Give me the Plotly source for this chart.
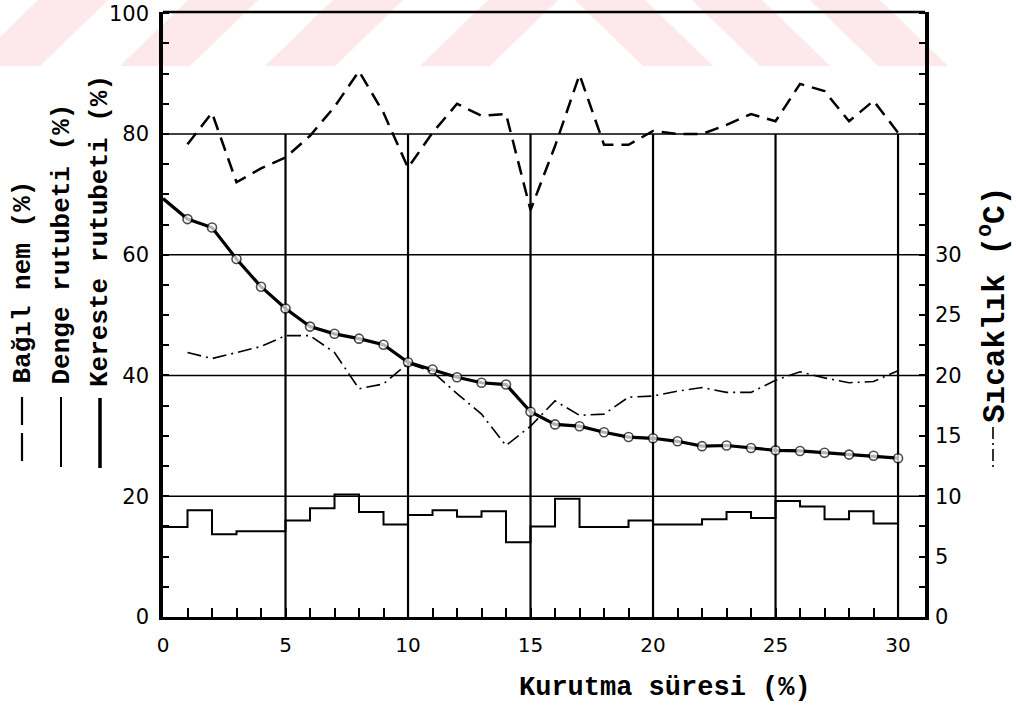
import plotly.graph_objects as go

# ---------------- data ----------------
days = list(range(0, 31))                    # Kurutma süresi (%)
bagil_x = list(range(1, 31))
bagil_nem = [78.3, 83.5, 72.0, 74.3, 76.1, 79.7, 84.5, 90.4, 83.5, 74.4,
             80.2, 85.0, 83.0, 83.3, 67.4, 78.0, 89.8, 78.2, 78.2, 80.5,
             80.0, 80.0, 81.5, 83.3, 82.1, 88.3, 87.1, 82.1, 85.5, 80.2]
kereste_rutubeti = [69.3, 65.9, 64.5, 59.3, 54.7, 51.1, 48.1, 46.9, 46.1, 45.1,
                    42.2, 41.0, 39.7, 38.8, 38.5, 34.0, 31.9, 31.6, 30.6, 29.8,
                    29.6, 29.1, 28.3, 28.4, 28.0, 27.6, 27.5, 27.2, 26.9, 26.7, 26.3]
sicaklik_x = list(range(1, 31))
sicaklik = [21.9, 21.4, 21.9, 22.4, 23.3, 23.3, 21.9, 18.9, 19.3, 21.0,
            20.3, 18.5, 16.8, 14.2, 15.8, 17.9, 16.7, 16.8, 18.2, 18.3,
            18.7, 19.0, 18.6, 18.6, 19.6, 20.3, 19.8, 19.4, 19.5, 20.4]
denge_rutubeti = [14.9, 17.7, 13.7, 14.2, 14.2, 16.0, 18.0, 20.3, 17.4, 15.3,
                  16.9, 17.7, 16.6, 17.5, 12.4, 15.0, 19.6, 14.9, 14.9, 16.0,
                  15.3, 15.3, 16.2, 17.4, 16.4, 19.2, 18.3, 16.2, 17.5, 15.5]

x_ticks = list(range(0, 31))
x_labels = [str(v) if v % 5 == 0 else "" for v in x_ticks]
y_ticks = [v * 5 for v in range(0, 21)]
y_labels = [str(v) if v % 20 == 0 else "" for v in y_ticks]
y2_ticks = [v * 2.5 for v in range(0, 21)]
y2_labels = [("%g" % v) if (v % 5 == 0 and v <= 30) else "" for v in y2_ticks]
v_grid = [5, 10, 15, 20, 25, 30]
h_grid = [20, 40, 60, 80]

# ---------------- layout geometry ----------------
W, H = 1016, 705
L, R, T, B = 163, 91, 12, 88
PW, PH = W - L - R, H - T - B
YMAX = 100.2


def px(xp):
    return (xp - L) / PW


def py(yp):
    return (H - B - yp) / PH


MONO = "Liberation Mono"
NUM = "DejaVu Sans"

fig = go.Figure()

# Denge rutubeti (step)
fig.add_trace(go.Scatter(x=days, y=denge_rutubeti + [denge_rutubeti[-1]],
                         mode="lines", line=dict(color="black", width=2, shape="hv"),
                         showlegend=False, hoverinfo="skip"))
# Bağıl nem (dashed)
fig.add_trace(go.Scatter(x=bagil_x, y=bagil_nem, mode="lines",
                         line=dict(color="black", width=2.5, dash="14px,8px"),
                         showlegend=False))
# Kereste rutubeti (thick with circles)
fig.add_trace(go.Scatter(x=days, y=kereste_rutubeti, mode="lines+markers",
                         line=dict(color="black", width=3.2),
                         marker=dict(size=[0] + [9] * (len(days) - 1), color="white",
                                     line=dict(color="black", width=1.6)),
                         showlegend=False))
# Sıcaklık (dash-dot, right axis)
fig.add_trace(go.Scatter(x=sicaklik_x, y=sicaklik, mode="lines", yaxis="y2",
                         line=dict(color="black", width=1.6, dash="14px,5px,2px,5px"),
                         showlegend=False))

shapes = []
# watermark stripes (light pink) in top band
pink = "#fde8eb"
band_top, band_bot = 0, 66
for b in [-30, 120, 265, 420]:
    x0, x1 = b, b + 70
    path = "M {} {} L {} {} L {} {} L {} {} Z".format(
        px(x0), py(band_bot), px(x1), py(band_bot),
        px(x1 + 68), py(band_top), px(x0 + 68), py(band_top))
    shapes.append(dict(type="path", path=path, xref="paper", yref="paper",
                       fillcolor=pink, line=dict(width=0), layer="below"))
for t in [575, 692, 810]:
    x0, x1 = t, t + 70
    path = "M {} {} L {} {} L {} {} L {} {} Z".format(
        px(x0), py(band_top), px(x1), py(band_top),
        px(x1 + 68), py(band_bot), px(x0 + 68), py(band_bot))
    shapes.append(dict(type="path", path=path, xref="paper", yref="paper",
                       fillcolor=pink, line=dict(width=0), layer="below"))

# grid
for g in h_grid:
    shapes.append(dict(type="line", xref="paper", yref="y", x0=0, x1=1, y0=g, y1=g,
                       line=dict(color="black", width=1.4), layer="below"))
for g in v_grid:
    shapes.append(dict(type="line", xref="x", yref="y", x0=g, x1=g, y0=0, y1=80,
                       line=dict(color="black", width=2.2), layer="below"))
# top border
shapes.append(dict(type="line", xref="paper", yref="paper", x0=0, x1=1, y0=1, y1=1,
                   line=dict(color="black", width=2.5)))

# legend line samples next to axis titles
shapes.append(dict(type="line", xref="paper", yref="paper", x0=px(22), x1=px(22),
                   y0=py(397), y1=py(467), line=dict(color="black", width=2.2, dash="28px,8px")))
shapes.append(dict(type="line", xref="paper", yref="paper", x0=px(61), x1=px(61),
                   y0=py(397), y1=py(467), line=dict(color="black", width=2)))
shapes.append(dict(type="line", xref="paper", yref="paper", x0=px(100), x1=px(100),
                   y0=py(398), y1=py(468), line=dict(color="black", width=3.5)))
shapes.append(dict(type="line", xref="paper", yref="paper", x0=px(993), x1=px(993),
                   y0=py(427), y1=py(468), line=dict(color="black", width=1.6, dash="12px,4px,2px,4px")))

annotations = []
for txt, xp, yb in [("Bağıl nem (%)", 22, 386), ("Denge rutubeti (%)", 61, 386),
                    ("Kereste rutubeti (%)", 100, 389)]:
    annotations.append(dict(text="<b>%s</b>" % txt, xref="paper", yref="paper", x=px(xp), y=py(yb),
                            xanchor="center", yanchor="bottom", textangle=-90,
                            showarrow=False, font=dict(family=MONO, size=26, color="black")))
annotations.append(dict(text="<b>Sıcaklık (<sup>o</sup>C)</b>", xref="paper", yref="paper",
                        x=px(993), y=py(425), xanchor="center", yanchor="bottom",
                        textangle=-90, showarrow=False,
                        font=dict(family=MONO, size=31, color="black")))
annotations.append(dict(text="<b>Kurutma süresi (%)</b>", xref="paper", yref="paper",
                        x=px(665), y=py(688), xanchor="center", yanchor="middle",
                        showarrow=False, font=dict(family=MONO, size=27, color="black")))

fig.update_layout(
    width=W, height=H,
    margin=dict(l=L, r=R, t=T, b=B, autoexpand=False),
    paper_bgcolor="white", plot_bgcolor="rgba(0,0,0,0)",
    showlegend=False,
    xaxis=dict(range=[0, 31.1], tickmode="array", tickvals=x_ticks, ticktext=x_labels,
               ticks="inside", ticklen=9, tickwidth=2, tickcolor="black",
               showline=True, linewidth=3, linecolor="black", showgrid=False,
               zeroline=False, ticklabelstandoff=8,
               tickfont=dict(family=NUM, size=20, color="black")),
    yaxis=dict(range=[0, YMAX], tickmode="array", tickvals=y_ticks, ticktext=y_labels,
               ticks="inside", ticklen=6, tickwidth=2, tickcolor="black",
               showline=True, linewidth=3.5, linecolor="black", showgrid=False,
               zeroline=False, ticklabelstandoff=6,
               tickfont=dict(family=NUM, size=21, color="black")),
    yaxis2=dict(range=[0, YMAX / 2], overlaying="y", side="right", tickmode="array",
                tickvals=y2_ticks, ticktext=y2_labels,
                ticks="inside", ticklen=6, tickwidth=2, tickcolor="black",
                showline=True, linewidth=3.5, linecolor="black", showgrid=False,
                zeroline=False, ticklabelstandoff=2,
                tickfont=dict(family=NUM, size=21, color="black")),
    shapes=shapes,
    annotations=annotations,
)

fig.write_html("out.html")
